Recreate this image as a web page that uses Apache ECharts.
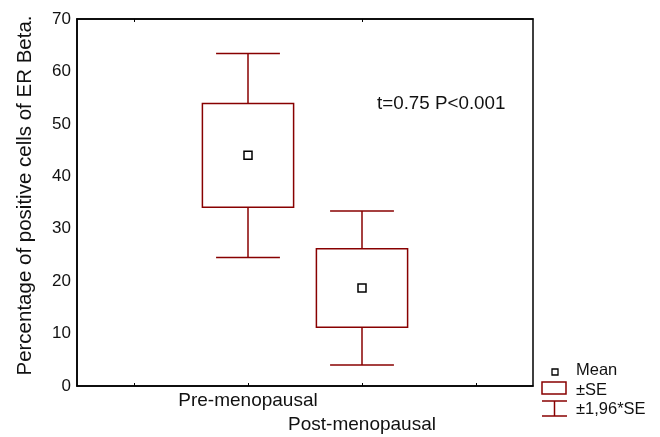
<!DOCTYPE html>
<html>
<head>
<meta charset="utf-8">
<script src="https://cdn.jsdelivr.net/npm/echarts@6/dist/echarts.min.js"></script>
<style>
html,body{margin:0;padding:0;background:#fff;}
#chart{width:660px;height:437px;}
</style>
</head>
<body>
<div id="chart"></div>
<script>
// ---- data ----
const categories = ['', 'Pre-menopausal', 'Post-menopausal', ''];
const groupIndex = [1, 2];
const means = [44.0, 18.7];
const seLow = [34.1, 11.2];
const seHigh = [53.9, 26.2];
const ciLow = [24.5, 4.0];
const ciHigh = [63.4, 33.4];
const yTicks = { min: 0, max: 70, interval: 10 };
const yTitle = 'Percentage of positive cells of ER Beta.';
const annotation = 't=0.75 P<0.001';
const legendLabels = ['Mean', '±SE', '±1,96*SE'];

const FONT = '"Liberation Sans", Arial, Helvetica, sans-serif';
const RED = '#880000';
const TXT = '#111';

const boxData = groupIndex.map((g, i) => [g, ciLow[i], seLow[i], means[i], seHigh[i], ciHigh[i]]);
const meanData = groupIndex.map((g, i) => [g, means[i]]);

const chart = echarts.init(document.getElementById('chart'), null, { renderer: 'canvas' });

function renderBox(params, api) {
  const x = api.value(0);
  const bw = api.size([1, 0])[0];
  const lo = api.coord([x, api.value(1)]);
  const q1 = api.coord([x, api.value(2)]);
  const q3 = api.coord([x, api.value(4)]);
  const hi = api.coord([x, api.value(5)]);
  const cx = lo[0];
  const hb = bw * 0.4;
  const hc = bw * 0.28;
  const st = { stroke: RED, lineWidth: 1.5, fill: null };
  return {
    type: 'group',
    children: [
      { type: 'line', shape: { x1: cx, y1: hi[1], x2: cx, y2: q3[1] }, style: st },
      { type: 'line', shape: { x1: cx, y1: q1[1], x2: cx, y2: lo[1] }, style: st },
      { type: 'line', shape: { x1: cx - hc, y1: hi[1], x2: cx + hc, y2: hi[1] }, style: st },
      { type: 'line', shape: { x1: cx - hc, y1: lo[1], x2: cx + hc, y2: lo[1] }, style: st },
      { type: 'rect', shape: { x: cx - hb, y: q3[1], width: 2 * hb, height: q1[1] - q3[1] }, style: { stroke: RED, lineWidth: 1.5, fill: 'rgba(0,0,0,0)' } }
    ]
  };
}

const option = {
  backgroundColor: '#fff',
  animation: false,
  textStyle: { fontFamily: FONT },
  grid: { left: 77, right: 127, top: 19, bottom: 49, show: true, borderColor: '#000', borderWidth: 1.5, backgroundColor: 'transparent' },
  xAxis: [
    {
      type: 'category', data: categories, boundaryGap: true, position: 'bottom',
      axisLine: { show: true, lineStyle: { color: '#000', width: 1.5 } },
      axisTick: { show: true, alignWithLabel: true, inside: true, length: 3, lineStyle: { color: '#000' } },
      axisLabel: {
        interval: 0, margin: 3, fontSize: 19, lineHeight: 24, color: TXT, fontFamily: FONT,
        formatter: (v, i) => (i === 2 ? '\n' + v : v)
      },
      splitLine: { show: false }
    },
    {
      type: 'category', data: categories, boundaryGap: true, position: 'top',
      axisLine: { show: true, lineStyle: { color: '#000', width: 1.5 } },
      axisTick: { show: true, alignWithLabel: true, inside: true, length: 3, lineStyle: { color: '#000' } },
      axisLabel: { show: false },
      splitLine: { show: false }
    }
  ],
  yAxis: {
    type: 'value', min: yTicks.min, max: yTicks.max, interval: yTicks.interval,
    name: yTitle, nameLocation: 'middle', nameGap: 41,
    nameTextStyle: { fontSize: 20.5, color: TXT, fontFamily: FONT, padding: [0, 0, 0, 14] },
    axisLine: { show: true, lineStyle: { color: '#000', width: 1.5 } },
    axisTick: { show: false },
    axisLabel: { fontSize: 17, color: TXT, margin: 6, fontFamily: FONT },
    splitLine: { show: false }
  },
  series: [
    {
      type: 'custom', name: '±SE', renderItem: renderBox, data: boxData,
      encode: { x: 0, y: [1, 2, 3, 4, 5] }, z: 2
    },
    {
      type: 'scatter', name: 'Mean', data: meanData, symbol: 'rect', symbolSize: 8,
      itemStyle: { color: '#fff', borderColor: '#000', borderWidth: 1.5, opacity: 1 }, z: 3
    }
  ],
  graphic: [
    { type: 'text', left: 377, top: 94, style: { text: annotation, font: '18.8px ' + FONT, fill: TXT } },
    // legend
    { type: 'rect', shape: { x: 552, y: 369, width: 6, height: 6 }, style: { stroke: '#000', lineWidth: 1.3, fill: '#fff' } },
    { type: 'text', left: 576, top: 362, style: { text: legendLabels[0], font: '16.5px ' + FONT, fill: TXT } },
    { type: 'rect', shape: { x: 542, y: 382, width: 24, height: 12 }, style: { stroke: RED, lineWidth: 1.5, fill: '#fff' } },
    { type: 'text', left: 576, top: 382, style: { text: legendLabels[1], font: '16.5px ' + FONT, fill: TXT } },
    { type: 'line', shape: { x1: 542, y1: 401, x2: 567, y2: 401 }, style: { stroke: RED, lineWidth: 1.5 } },
    { type: 'line', shape: { x1: 554.5, y1: 401, x2: 554.5, y2: 416 }, style: { stroke: RED, lineWidth: 1.5 } },
    { type: 'line', shape: { x1: 542, y1: 416, x2: 567, y2: 416 }, style: { stroke: RED, lineWidth: 1.5 } },
    { type: 'text', left: 576, top: 401, style: { text: legendLabels[2], font: '16.5px ' + FONT, fill: TXT } }
  ]
};
chart.setOption(option);
</script>
</body>
</html>
